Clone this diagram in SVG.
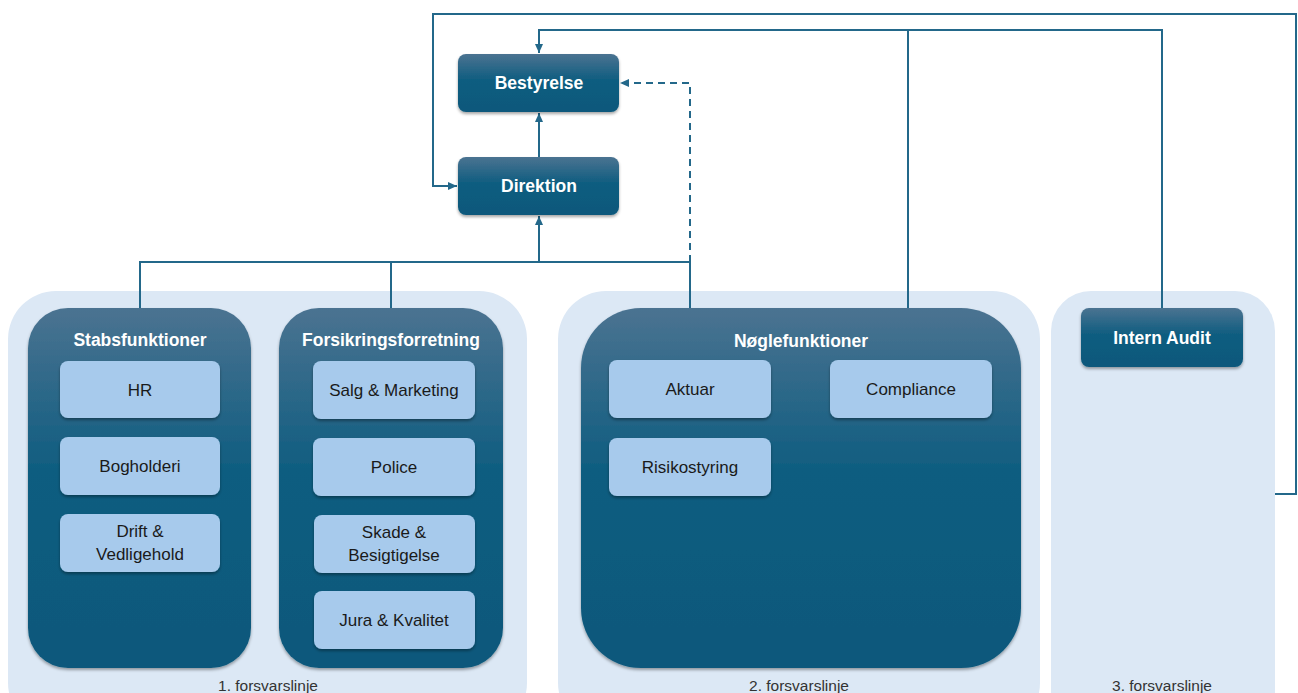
<svg xmlns="http://www.w3.org/2000/svg" width="1298" height="693" viewBox="0 0 1298 693">
<defs>
<linearGradient id="dark" x1="0" y1="0" x2="0" y2="1">
<stop offset="0" stop-color="#4B7391"/>
<stop offset="0.45" stop-color="#0F5D80"/>
<stop offset="1" stop-color="#0A587B"/>
</linearGradient>
<filter id="sh" x="-10%" y="-10%" width="120%" height="130%">
<feDropShadow dx="0" dy="2" stdDeviation="1.8" flood-color="#000" flood-opacity="0.35"/>
</filter>
<marker id="arr" markerWidth="10" markerHeight="10" refX="9" refY="5" orient="auto" markerUnits="userSpaceOnUse">
<path d="M0,1 L9,5 L0,9 Z" fill="#23688A"/>
</marker>
<style>
.cont{fill:#DCE8F5}
.dark{fill:url(#dark);filter:url(#sh)}
.light{fill:#A7CAEC;filter:url(#sh)}
.hd{font-family:"Liberation Sans",Arial,sans-serif;font-weight:bold;font-size:17.5px;fill:#fff;text-anchor:middle}
.lt{font-family:"Liberation Sans",Arial,sans-serif;font-size:17px;fill:#1a1a1a;text-anchor:middle}
.lbl{font-family:"Liberation Sans",Arial,sans-serif;font-size:15.5px;fill:#333;text-anchor:middle}
.ln{fill:none;stroke:#23688A;stroke-width:2}
.dash{stroke-dasharray:7,5}
</style>
</defs>
<g id="containers">
<rect class="cont" x="8" y="291" width="519" height="440" rx="48"/>
<rect class="cont" x="558" y="291" width="482" height="440" rx="48"/>
<rect class="cont" x="1051" y="291" width="224" height="440" rx="40"/>
<text class="lbl" x="268" y="691">1. forsvarslinje</text>
<text class="lbl" x="799" y="691">2. forsvarslinje</text>
<text class="lbl" x="1162" y="691">3. forsvarslinje</text>
</g>
<g id="connectors">
<path class="ln" d="M140,308 V262 H690"/>
<path class="ln" d="M391,308 V262"/>
<path class="ln" d="M690,308 V262"/>
<path class="ln" d="M539,262 V216" marker-end="url(#arr)"/>
<path class="ln" d="M539,157 V113" marker-end="url(#arr)"/>
<path class="ln dash" d="M690,262 V83 H620" marker-end="url(#arr)"/>
<path class="ln" d="M1162,308 V30 H539 V53" marker-end="url(#arr)"/>
<path class="ln" d="M908,308 V30"/>
<path class="ln" d="M1275,494 H1296 V14 H433 V186 H457" marker-end="url(#arr)"/>
</g>
<g id="bestyrelse">
<rect class="dark" x="458" y="54" width="161" height="58" rx="8"/>
<text class="hd" x="539" y="89">Bestyrelse</text>
</g>
<g id="direktion">
<rect class="dark" x="458" y="157" width="161" height="58" rx="8"/>
<text class="hd" x="539" y="192">Direktion</text>
</g>
<g id="stabsfunktioner">
<rect class="dark" x="28" y="308" width="223" height="360" rx="40"/>
<text class="hd" x="140" y="346">Stabsfunktioner</text>
</g>
<g id="hr"><rect class="light" x="60" y="361" width="160" height="57" rx="8"/><text class="lt" x="140" y="396">HR</text></g>
<g id="bogholderi"><rect class="light" x="60" y="437" width="160" height="58" rx="8"/><text class="lt" x="140" y="472">Bogholderi</text></g>
<g id="drift"><rect class="light" x="60" y="514" width="160" height="58" rx="8"/><text class="lt" x="140" y="537">Drift &amp;</text><text class="lt" x="140" y="560">Vedligehold</text></g>
<g id="forsikringsforretning">
<rect class="dark" x="279" y="308" width="224" height="360" rx="40"/>
<text class="hd" x="391" y="346">Forsikringsforretning</text>
</g>
<g id="salg"><rect class="light" x="313" y="361" width="162" height="58" rx="8"/><text class="lt" x="394" y="396">Salg &amp; Marketing</text></g>
<g id="police"><rect class="light" x="313" y="438" width="162" height="58" rx="8"/><text class="lt" x="394" y="473">Police</text></g>
<g id="skade"><rect class="light" x="314" y="515" width="161" height="58" rx="8"/><text class="lt" x="394" y="538">Skade &amp;</text><text class="lt" x="394" y="561">Besigtigelse</text></g>
<g id="jura"><rect class="light" x="314" y="591" width="161" height="58" rx="8"/><text class="lt" x="394" y="626">Jura &amp; Kvalitet</text></g>
<g id="noeglefunktioner">
<rect class="dark" x="581" y="308" width="440" height="360" rx="60"/>
<text class="hd" x="801" y="347">Nøglefunktioner</text>
</g>
<g id="aktuar"><rect class="light" x="609" y="360" width="162" height="58" rx="8"/><text class="lt" x="690" y="395">Aktuar</text></g>
<g id="compliance"><rect class="light" x="830" y="360" width="162" height="58" rx="8"/><text class="lt" x="911" y="395">Compliance</text></g>
<g id="risikostyring"><rect class="light" x="609" y="438" width="162" height="58" rx="8"/><text class="lt" x="690" y="473">Risikostyring</text></g>
<g id="intern-audit">
<rect class="dark" x="1081" y="308" width="162" height="59" rx="8"/>
<text class="hd" x="1162" y="344">Intern Audit</text>
</g>
</svg>
